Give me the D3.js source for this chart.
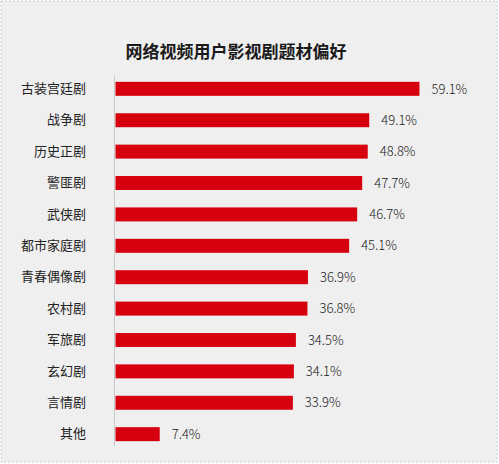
<!DOCTYPE html>
<html lang="zh">
<head>
<meta charset="UTF-8">
<title>网络视频用户影视剧题材偏好</title>
<script src="https://cdn.jsdelivr.net/npm/d3@7/dist/d3.min.js"></script>
<style>
    html, body { margin: 0; padding: 0; background: #fff; }
    #chart { width: 499px; height: 464px; }
    text { font-family: "Noto Sans CJK SC", "Noto Sans", sans-serif; }
</style>
</head>
<body>
<div id="chart"></div>
<script>
    // 数据
    const categories = ["古装宫廷剧", "战争剧", "历史正剧", "警匪剧", "武侠剧", "都市家庭剧",
        "青春偶像剧", "农村剧", "军旅剧", "玄幻剧", "言情剧", "其他"];
    const values = [59.1, 49.1, 48.8, 47.7, 46.7, 45.1, 36.9, 36.8, 34.5, 34.1, 33.9, 7.4];
    const title = "网络视频用户影视剧题材偏好";

    let draw = () => {
        let W = 499, H = 464;
        let svg = d3.select("#chart").append("svg")
            .attr("width", W)
            .attr("height", H);

        // 背景和虚线边框
        svg.append("rect")
            .attr("x", 1).attr("y", 1)
            .attr("width", W - 3).attr("height", H - 3)
            .attr("fill", "#efefef")
            .attr("stroke", "#c9c9c9")
            .attr("stroke-width", 1)
            .attr("stroke-dasharray", "2,2");

        svg.append("text")
            .attr("x", 236)
            .attr("y", 58)
            .attr("text-anchor", "middle")
            .attr("font-size", 17)
            .attr("font-weight", "bold")
            .attr("fill", "#1a1a1a")
            .text(title);

        let data = categories.map((c, i) => ({ name: c, value: values[i] }));

        // 横向比例尺（起点略偏，贴合原图条长）
        let x = d3.scaleLinear()
            .domain([-1.5, 60])
            .range([115, 424]);

        let y = d3.scaleBand()
            .domain(categories)
            .range([74, 449])
            .paddingInner(0.555)
            .paddingOuter(0.25);

        // 左侧竖线
        svg.append("line")
            .attr("x1", 114.5).attr("x2", 114.5)
            .attr("y1", 76).attr("y2", 446)
            .attr("stroke", "#c8c8c8")
            .attr("stroke-width", 1);

        let yAxis = d3.axisLeft(y).tickSize(0).tickPadding(0);
        let gy = svg.append("g")
            .attr("transform", "translate(86,0)")
            .call(yAxis);
        gy.select(".domain").remove();
        gy.selectAll("text")
            .attr("font-size", 13)
            .attr("fill", "#222")
            .attr("font-family", "'Noto Sans CJK SC', sans-serif");

        svg.append("g")
            .selectAll("rect")
            .data(data)
            .enter()
            .append("rect")
            .attr("x", x(-1.5) + 0.5)
            .attr("y", d => y(d.name))
            .attr("width", d => x(d.value) - x(-1.5) - 0.5)
            .attr("height", y.bandwidth())
            .attr("fill", "#d7000f");

        svg.append("g")
            .selectAll("text")
            .data(data)
            .enter()
            .append("text")
            .attr("x", d => x(d.value) + 12)
            .attr("y", d => y(d.name) + y.bandwidth() / 2)
            .attr("dy", "0.36em")
            .attr("font-size", 13)
            .attr("font-weight", 300)
            .attr("fill", "#222")
            .text(d => d.value.toFixed(1) + "%");
    }
    draw();
</script>
</body>
</html>
